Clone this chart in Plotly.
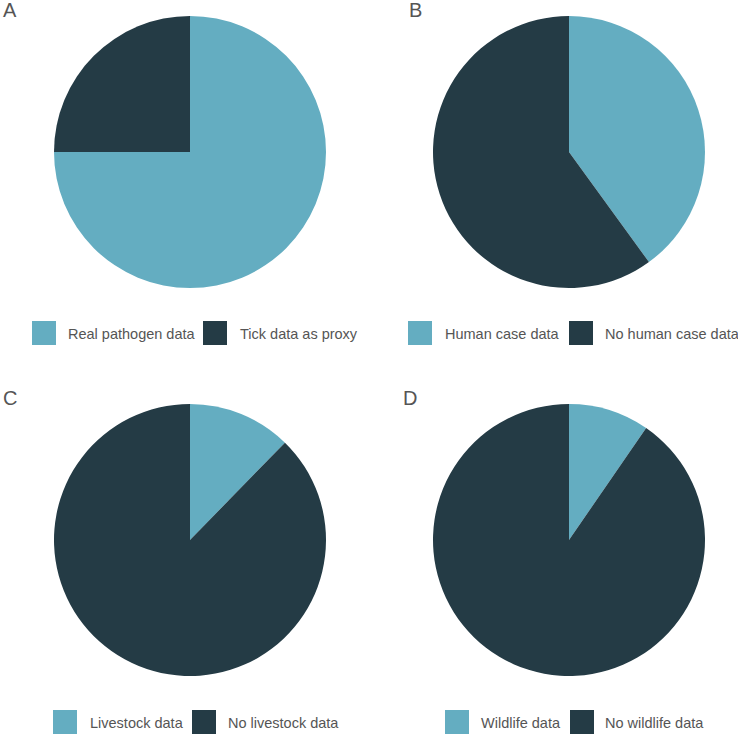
import plotly.graph_objects as go

W, H = 738, 736

panel_letters = ["A", "B", "C", "D"]
labels_A = ["Real pathogen data", "Tick data as proxy"]
values_A = [75, 25]
labels_B = ["Human case data", "No human case data"]
values_B = [40, 60]
labels_C = ["Livestock data", "No livestock data"]
values_C = [12.3, 87.7]
labels_D = ["Wildlife data", "No wildlife data"]
values_D = [9.6, 90.4]

LIGHT = "#64adc1"
DARK = "#243b45"
TEXT = "#555555"
FONT = "Arial, Liberation Sans, sans-serif"

# layout geometry (pixels)
panels = [
    dict(labels=labels_A, values=values_A, cx=190, cy=152, r=136, letter=(1, 10),
         leg=[(32, 66), (203, 238)], legy=333),
    dict(labels=labels_B, values=values_B, cx=569, cy=152, r=136, letter=(407, 10),
         leg=[(408, 443), (569, 603)], legy=333),
    dict(labels=labels_C, values=values_C, cx=190, cy=540, r=136, letter=(1, 398),
         leg=[(53, 88), (192, 226)], legy=722),
    dict(labels=labels_D, values=values_D, cx=569, cy=540, r=136, letter=(401, 398),
         leg=[(445, 479), (570, 603)], legy=722),
]

def px(x):
    return x / W

def py(y):
    return 1 - y / H

fig = go.Figure()
shapes = []
annotations = []
for p, letter in zip(panels, panel_letters):
    fig.add_trace(go.Pie(
        labels=p["labels"], values=p["values"], sort=False,
        direction="clockwise", rotation=0,
        marker=dict(colors=[LIGHT, DARK], line=dict(width=0)),
        textinfo="none", hoverinfo="label+percent", showlegend=False,
        domain=dict(x=[px(p["cx"] - p["r"]), px(p["cx"] + p["r"])],
                    y=[py(p["cy"] + p["r"]), py(p["cy"] - p["r"])]),
    ))
    annotations.append(dict(text=letter, x=px(p["letter"][0]), y=py(p["letter"][1]),
                            xref="paper", yref="paper", xanchor="left", yanchor="middle",
                            showarrow=False, font=dict(family=FONT, size=20, color=TEXT)))
    for (sx, tx), lab, col in zip(p["leg"], p["labels"], [LIGHT, DARK]):
        shapes.append(dict(type="rect", xref="paper", yref="paper",
                           x0=px(sx), x1=px(sx + 24), y0=py(p["legy"] + 12), y1=py(p["legy"] - 12),
                           fillcolor=col, line=dict(width=0)))
        annotations.append(dict(text=lab, x=px(tx), y=py(p["legy"] + 1),
                                xref="paper", yref="paper", xanchor="left", yanchor="middle",
                                showarrow=False, font=dict(family=FONT, size=14.5, color=TEXT)))

fig.update_layout(
    width=W, height=H, margin=dict(l=0, r=0, t=0, b=0),
    paper_bgcolor="white", plot_bgcolor="white",
    shapes=shapes, annotations=annotations, showlegend=False,
)

fig.write_html("out.html", config={"displayModeBar": False},
               post_script="document.body.style.margin='0';document.body.style.overflow='hidden';")
